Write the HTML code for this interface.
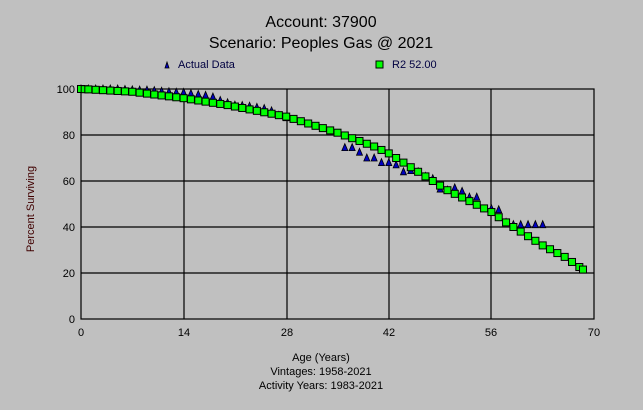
<!DOCTYPE html>
<html><head><meta charset="utf-8"><style>
html,body{margin:0;padding:0;background:#c0c0c0;}
svg{display:block;font-family:"Liberation Sans",sans-serif;}
</style></head><body>
<svg id="s" width="643" height="410" xmlns="http://www.w3.org/2000/svg">
<rect width="643" height="410" fill="#c0c0c0"/>
<text x="321" y="27" font-size="16" text-anchor="middle">Account: 37900</text>
<text x="321" y="48" font-size="16" text-anchor="middle">Scenario: Peoples Gas @ 2021</text>
<polygon points="165,68 169,68 167,62" fill="#0000c0" stroke="#000" stroke-width="0.8"/>
<text x="178" y="68" font-size="11" fill="#000040">Actual Data</text>
<rect x="376" y="61" width="7" height="7" fill="#00ff00" stroke="#000"/>
<text x="392" y="68" font-size="11" fill="#000040">R2 52.00</text>
<g stroke="#000" stroke-width="1.2" fill="none">
<rect x="81" y="89" width="513" height="230"/>
<line x1="184" y1="89" x2="184" y2="319"/><line x1="287" y1="89" x2="287" y2="319"/>
<line x1="389" y1="89" x2="389" y2="319"/><line x1="491" y1="89" x2="491" y2="319"/>
<line x1="81" y1="135" x2="594" y2="135"/><line x1="81" y1="181" x2="594" y2="181"/>
<line x1="81" y1="227" x2="594" y2="227"/><line x1="81" y1="273" x2="594" y2="273"/>
</g>
<g font-size="11" text-anchor="end">
<text x="75" y="93">100</text><text x="75" y="139">80</text><text x="75" y="185">60</text>
<text x="75" y="231">40</text><text x="75" y="277">20</text><text x="75" y="323">0</text>
</g>
<g font-size="11" text-anchor="middle">
<text x="81" y="336">0</text><text x="184" y="336">14</text><text x="287" y="336">28</text>
<text x="389" y="336">42</text><text x="491" y="336">56</text><text x="594" y="336">70</text>
<text x="321" y="361">Age (Years)</text>
<text x="321" y="375">Vintages: 1958-2021</text>
<text x="321" y="389">Activity Years: 1983-2021</text>
</g>
<text x="34" y="209" font-size="11" fill="#400000" text-anchor="middle" transform="rotate(-90 34 209)">Percent Surviving</text>
<g id="tri"></g><g id="sq"></g>
</svg>
<script>
const X=a=>81+a*513/70, Y=v=>319-v*2.3;
const knots=[[0,100],[7,98.8],[14,96],[20,93],[28,88],[35,81],[40,75],[42,72],[46,64],[50,56],[56,46.5],[58,42],[60,38],[63,32],[66,27],[68.5,21.5]];
function f(a){for(let i=0;i<knots.length-1;i++){const[a0,v0]=knots[i],[a1,v1]=knots[i+1];if(a<=a1)return v0+(v1-v0)*(a-a0)/(a1-a0);}return 21.5;}
const act=[[0,100],[1,100],[2,100],[3,100],[4,100],[5,100],[6,99.8],[7,99.6],[8,99.5],[9,99.5],[10,99.3],[11,99],[12,98.8],[13,98.6],[14,98.5],[15,98],[16,97.6],[17,97.2],[18,96.5],[19,95],[20,94],[21,93],[22,92.8],[23,92.5],[24,92],[25,91.5],[26,90.5],[27,88.5],[28,87.5],[36,74.5],[37,74.5],[38,72.5],[39,70],[40,70],[41,68],[42,68],[43,67],[44,64],[45,64.5],[46,64],[47,62],[48,61],[49,56.5],[50,56],[51,57],[52,55.5],[53,53],[54,53],[56,48],[57,47.5],[58,42],[59,41],[60,41],[61,41],[62,41],[63,41]];
let t='';for(const[a,v]of act){const x=X(a),y=Y(v);t+=`<polygon points="${x-3},${y+3} ${x+3},${y+3} ${x},${y-4}" fill="#0000c0" stroke="#000" stroke-width="0.8"/>`;}
document.getElementById('tri').innerHTML=t;
let s='';const ages=[0,0.5];for(let a=1;a<=68.5;a++)ages.push(a);ages.push(68.5);
for(const a of ages){const x=X(a),y=Y(f(a));s+=`<rect x="${x-3.5}" y="${y-3.5}" width="7" height="7" fill="#00ff00" stroke="#000" stroke-width="1"/>`;}
document.getElementById('sq').innerHTML=s;
</script>
</body></html>
